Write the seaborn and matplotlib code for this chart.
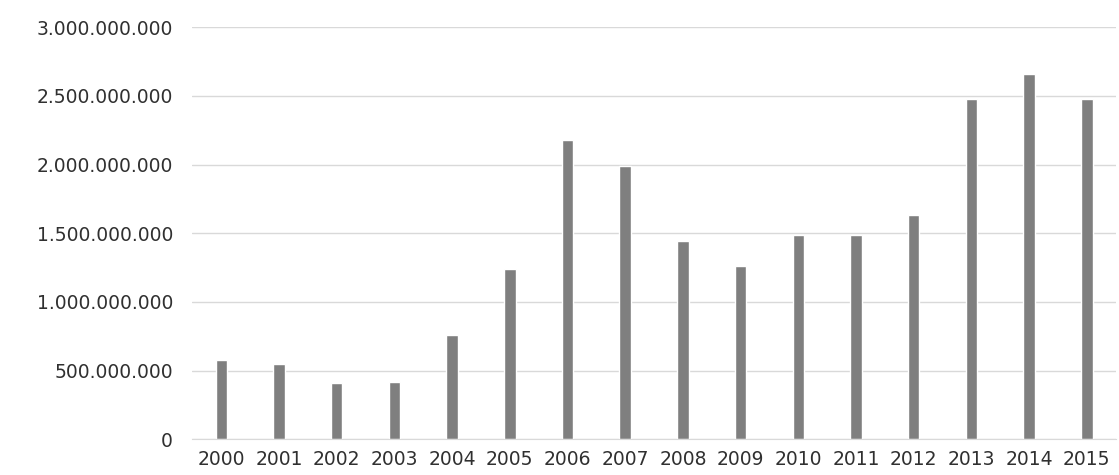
import matplotlib
matplotlib.use("Agg")
import matplotlib.pyplot as plt
import seaborn as sns
import pandas as pd
from matplotlib.ticker import FuncFormatter

years = [str(y) for y in range(2000, 2016)]
values = [580e6, 545e6, 410e6, 420e6, 760e6, 1240e6, 2180e6, 1990e6,
          1440e6, 1265e6, 1490e6, 1490e6, 1630e6, 2480e6, 2660e6, 2480e6]

df = pd.DataFrame({"year": years, "value": values})
sns.set_style("white")
fig = plt.figure(figsize=(11.19, 4.75), dpi=100)
ax = fig.add_axes([0.172, 0.075, 0.825, 0.868])
sns.barplot(data=df, x="year", y="value", color="#7f7f7f", width=0.2, saturation=1, ax=ax)
ax.set_ylim(0, 3e9)
ax.set_yticks([i * 5e8 for i in range(7)])
ax.yaxis.set_major_formatter(FuncFormatter(lambda v, p: f"{int(v):,}".replace(",", ".")))
ax.grid(axis="y", color="#d9d9d9", linewidth=1)
ax.set_axisbelow(True)
for s in ["top", "right", "left"]:
    ax.spines[s].set_visible(False)
ax.spines["bottom"].set_color("#d9d9d9")
ax.tick_params(axis="both", length=0, labelsize=13.5, colors="#303030", pad=8)
ax.tick_params(axis="y", pad=14)
ax.set_xlim(-0.5, 15.5)
ax.set_xlabel("")
ax.set_ylabel("")
fig.savefig("out.png")
